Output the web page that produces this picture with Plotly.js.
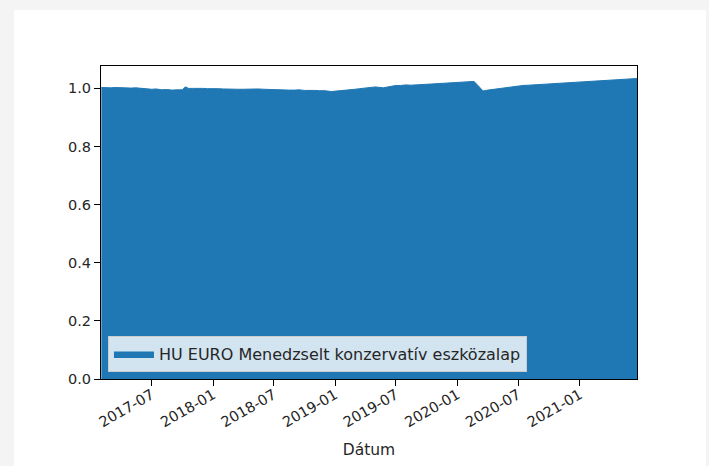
<!DOCTYPE html>
<html>
<head>
<meta charset="utf-8">
<script src="https://cdn.plot.ly/plotly-3.0.1.min.js"></script>
<style>
html,body{margin:0;padding:0;background:#f4f4f4;width:709px;height:466px;overflow:hidden;}
#plot{position:absolute;left:14px;top:10px;width:692px;height:456px;background:#fff;}
</style>
</head>
<body>
<div id="plot"></div>
<script>
const seriesName = "HU EURO Menedzselt konzervatív eszközalap";
const dates = [
"2017-02-01","2017-02-15","2017-03-01","2017-03-15","2017-04-01","2017-04-15","2017-05-01","2017-05-15",
"2017-06-01","2017-06-15","2017-07-01","2017-07-15","2017-08-01","2017-08-15","2017-09-01","2017-09-15",
"2017-10-01","2017-10-10","2017-10-20","2017-11-01","2017-11-15","2017-12-01","2017-12-15","2018-01-01",
"2018-01-15","2018-02-01","2018-02-15","2018-03-01","2018-03-15","2018-04-01","2018-04-15","2018-05-01",
"2018-05-15","2018-06-01","2018-06-15","2018-07-01","2018-07-15","2018-08-01","2018-08-15","2018-09-01",
"2018-09-15","2018-10-01","2018-10-15","2018-11-01","2018-11-15","2018-12-01","2018-12-20","2019-01-01",
"2019-01-15","2019-02-01","2019-02-15","2019-03-01","2019-03-15","2019-04-01","2019-04-15","2019-05-01",
"2019-05-25","2019-06-01","2019-06-15","2019-07-01","2019-07-15","2019-08-01","2019-08-15","2019-09-01",
"2019-09-15","2019-10-01","2019-10-15","2019-11-01","2019-11-15","2019-12-01","2019-12-15","2020-01-01",
"2020-01-15","2020-02-01","2020-02-20","2020-03-01","2020-03-10","2020-03-18","2020-04-01","2020-04-15",
"2020-05-01","2020-05-15","2020-06-01","2020-06-15","2020-07-01","2020-07-15","2020-08-01","2020-08-15",
"2020-09-01","2020-09-15","2020-10-01","2020-10-20","2020-11-01","2020-11-15","2020-12-01","2020-12-15",
"2021-01-01","2021-01-15","2021-02-01","2021-02-15","2021-03-01","2021-03-15","2021-04-01","2021-04-15",
"2021-05-01","2021-05-15","2021-06-01","2021-06-21"
];
const values = [
1.003,1.002,1.002,1.003,1.002,1.001,1.001,1.002,
1.000,0.999,0.997,0.998,0.995,0.996,0.994,0.995,
0.995,1.005,1.000,1.000,1.001,1.000,0.999,1.000,
0.999,0.998,0.997,0.996,0.997,0.997,0.998,0.999,
0.998,0.997,0.996,0.995,0.996,0.995,0.994,0.994,
0.995,0.993,0.994,0.993,0.992,0.992,0.989,0.990,
0.992,0.994,0.995,0.997,0.999,1.001,1.003,1.005,
1.002,1.004,1.007,1.010,1.010,1.012,1.011,1.013,
1.013,1.014,1.015,1.016,1.016,1.018,1.019,1.020,
1.021,1.022,1.024,1.012,1.000,0.991,0.994,0.996,
0.999,1.002,1.005,1.007,1.009,1.010,1.011,1.012,
1.013,1.014,1.015,1.016,1.019,1.020,1.021,1.022,
1.023,1.024,1.025,1.026,1.027,1.028,1.029,1.030,
1.031,1.032,1.033,1.034
];
const xTickVals = ["2017-07-01","2018-01-01","2018-07-01","2019-01-01","2019-07-01","2020-01-01","2020-07-01","2021-01-01"];
const xTickText = ["2017-07","2018-01","2018-07","2019-01","2019-07","2020-01","2020-07","2021-01"];
const yTickVals = [0,0.2,0.4,0.6,0.8,1.0];
const yTickText = ["0.0","0.2","0.4","0.6","0.8","1.0"];

const trace = {
  x: dates, y: values, type: "scatter", mode: "lines",
  fill: "tozeroy", fillcolor: "#1f77b4",
  line: {color: "#1f77b4", width: 1},
  name: seriesName, showlegend: true
};
const tickFont = {family: "DejaVu Sans, sans-serif", size: 14.5, color: "#262626"};
const titleFont = {family: "DejaVu Sans, sans-serif", size: 15.5, color: "#262626"};
const legendFont = {family: "DejaVu Sans, sans-serif", size: 16, color: "#262626"};
const layout = {
  width: 692, height: 456,
  margin: {l: 87, r: 69, t: 56, b: 87, pad: 0},
  paper_bgcolor: "#fff", plot_bgcolor: "#fff",
  font: tickFont,
  showlegend: true,
  legend: {x: 0.013, y: 0.022, xanchor: "left", yanchor: "bottom",
    bgcolor: "rgba(255,255,255,0.8)", bordercolor: "#cccccc", borderwidth: 1,
    font: legendFont, itemwidth: 40},
  xaxis: {
    type: "date", range: ["2017-01-31","2021-06-21"],
    tickvals: xTickVals, ticktext: xTickText, tickangle: -30,
    ticks: "outside", ticklen: 6, tickcolor: "#000", tickwidth: 1,
    ticklabelstandoff: -5,
    showline: true, linecolor: "#000", linewidth: 1, mirror: true,
    showgrid: false, zeroline: false,
    title: {text: "Dátum", font: titleFont, standoff: 14},
    tickfont: tickFont
  },
  yaxis: {
    range: [0, 1.077],
    tickvals: yTickVals, ticktext: yTickText,
    ticks: "outside", ticklen: 6, tickcolor: "#000", tickwidth: 1,
    showline: true, linecolor: "#000", linewidth: 1, mirror: true,
    showgrid: false, zeroline: false,
    tickfont: tickFont
  }
};
Plotly.newPlot("plot", [trace], layout, {staticPlot: true, displayModeBar: false});
</script>
</body>
</html>
